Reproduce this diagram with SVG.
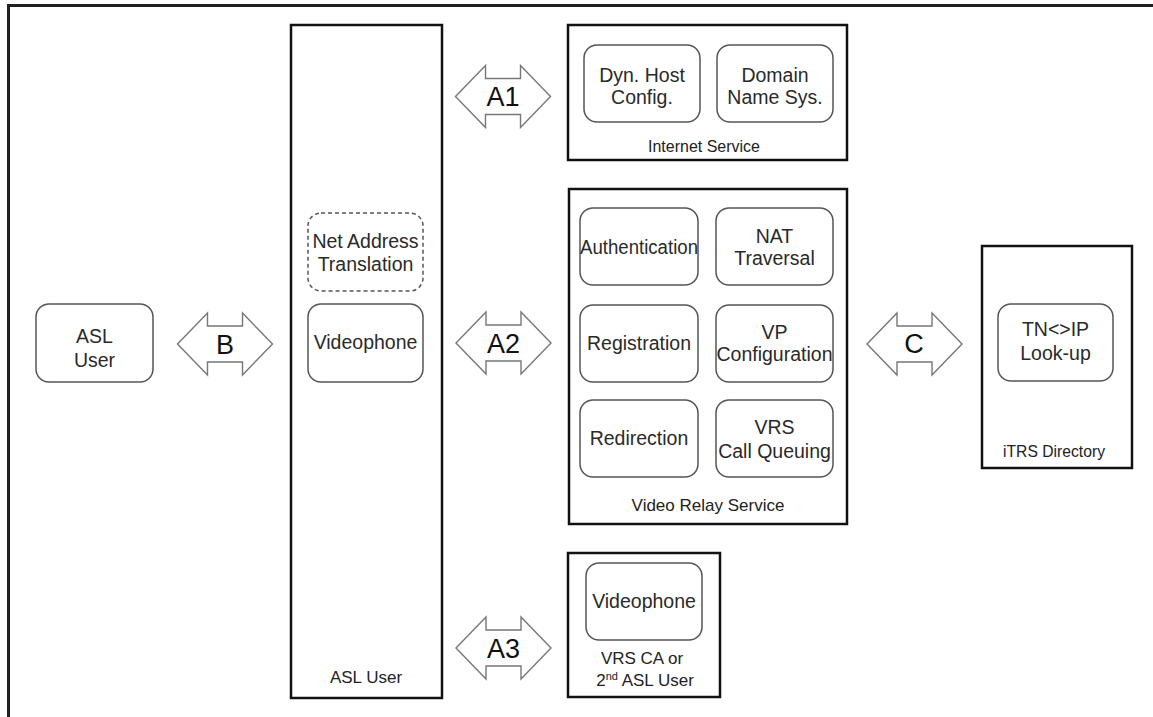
<svg xmlns="http://www.w3.org/2000/svg" xmlns:xlink="http://www.w3.org/1999/xlink" width="1153" height="717" viewBox="0 0 1153 717">
<style>
text{font-family:"Liberation Sans",Arial,sans-serif;text-anchor:middle}
.frame{fill:none;stroke:#231f20;stroke-width:3}
.cont{fill:#fff;stroke:#111;stroke-width:2.5}
.node{fill:#fff;stroke:#555;stroke-width:1.5}
.dash{fill:#fff;stroke:#555;stroke-width:1.5;stroke-dasharray:4 3}
.t{font-size:19.5px;fill:#2a2a2a}
.lbl{font-size:17px;fill:#222}
.arr{fill:#fff;stroke:#777;stroke-width:1.4;stroke-linejoin:miter}
.at{font-size:27px;fill:#111}
</style>
<defs>
<path id="dbl" d="M-47.5,0 L-17.5,-31 L-17.5,-18 L17.5,-18 L17.5,-31 L47.5,0 L17.5,31 L17.5,18 L-17.5,18 L-17.5,31 Z"/>
</defs>
<rect width="1153" height="717" fill="#fff"/>
<path class="frame" d="M8.5,717 V5.5 H1153"/>

<g id="asl-user-small">
<rect class="node" x="36" y="304" width="117" height="78" rx="13"/>
<text class="t" x="94.5" y="343">ASL</text>
<text class="t" x="94.5" y="367">User</text>
</g>

<g id="asl-user">
<rect class="cont" x="291" y="25" width="151" height="673"/>
<rect class="dash" x="308" y="213" width="115" height="78" rx="13"/>
<text class="t" x="365.5" y="248">Net Address</text>
<text class="t" x="365.5" y="271">Translation</text>
<rect class="node" x="308" y="304" width="115" height="78" rx="13"/>
<text class="t" x="365.5" y="349">Videophone</text>
<text class="lbl" x="366" y="683">ASL User</text>
</g>

<g id="internet-service">
<rect class="cont" x="568" y="25" width="279" height="135"/>
<rect class="node" x="584" y="45" width="116" height="77" rx="13"/>
<text class="t" x="642" y="82">Dyn. Host</text>
<text class="t" x="642" y="104">Config.</text>
<rect class="node" x="717" y="45" width="116" height="77" rx="13"/>
<text class="t" x="775" y="82">Domain</text>
<text class="t" x="775" y="104">Name Sys.</text>
<text class="lbl" x="704" y="152" textLength="112" lengthAdjust="spacingAndGlyphs">Internet Service</text>
</g>

<g id="video-relay-service">
<rect class="cont" x="569" y="189" width="278" height="335"/>
<rect class="node" x="580" y="208" width="118" height="77" rx="13"/>
<text class="t" x="639" y="254" textLength="118" lengthAdjust="spacingAndGlyphs">Authentication</text>
<rect class="node" x="716" y="208" width="117" height="77" rx="13"/>
<text class="t" x="774.5" y="243">NAT</text>
<text class="t" x="774.5" y="265">Traversal</text>
<rect class="node" x="580" y="305" width="118" height="77" rx="13"/>
<text class="t" x="639" y="350">Registration</text>
<rect class="node" x="716" y="305" width="117" height="77" rx="13"/>
<text class="t" x="774.5" y="339">VP</text>
<text class="t" x="774.5" y="361">Configuration</text>
<rect class="node" x="580" y="400" width="118" height="77" rx="13"/>
<text class="t" x="639" y="445">Redirection</text>
<rect class="node" x="716" y="400" width="117" height="77" rx="13"/>
<text class="t" x="774.5" y="434">VRS</text>
<text class="t" x="774.5" y="458">Call Queuing</text>
<text class="lbl" x="708" y="511">Video Relay Service</text>
</g>

<g id="itrs-directory">
<rect class="cont" x="982" y="246" width="150" height="222"/>
<rect class="node" x="998" y="304" width="115" height="77" rx="13"/>
<text class="t" x="1055.5" y="336">TN&lt;&gt;IP</text>
<text class="t" x="1055.5" y="360">Look-up</text>
<text class="lbl" x="1054" y="457" textLength="102" lengthAdjust="spacingAndGlyphs">iTRS Directory</text>
</g>

<g id="vrs-ca">
<rect class="cont" x="568" y="553" width="152" height="144"/>
<rect class="node" x="586" y="563" width="116" height="77" rx="13"/>
<text class="t" x="644" y="608">Videophone</text>
<text class="lbl" x="642" y="664">VRS CA or</text>
<text class="lbl" x="645" y="686">2<tspan font-size="11" dy="-6">nd</tspan><tspan dy="6"> ASL User</tspan></text>
</g>

<g id="connectors">
<use href="#dbl" class="arr" transform="translate(503,96.5)"/>
<text class="at" x="503" y="106">A1</text>
<use href="#dbl" class="arr" transform="translate(225,344)"/>
<text class="at" x="225" y="354">B</text>
<use href="#dbl" class="arr" transform="translate(503.5,343)"/>
<text class="at" x="503.5" y="353">A2</text>
<use href="#dbl" class="arr" transform="translate(914.5,344)"/>
<text class="at" x="914" y="353">C</text>
<use href="#dbl" class="arr" transform="translate(503.5,648)"/>
<text class="at" x="503.5" y="658">A3</text>
</g>
</svg>
